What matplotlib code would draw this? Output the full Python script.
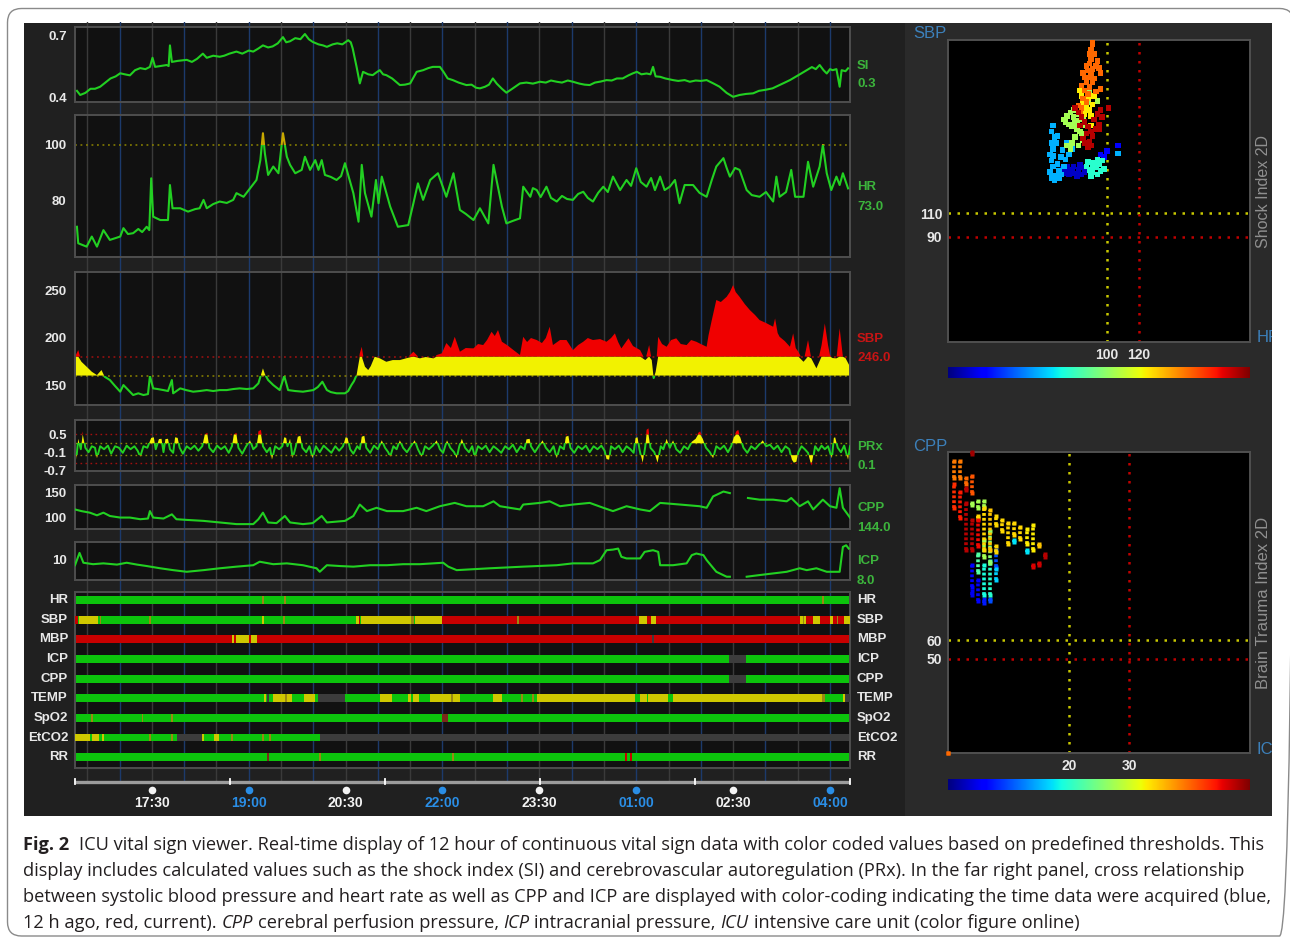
import numpy as np
import matplotlib
matplotlib.use("Agg")
import matplotlib.pyplot as plt
from matplotlib.patches import Rectangle, FancyBboxPatch
from matplotlib import font_manager

plt.rcParams['font.family'] = ['Liberation Sans', 'DejaVu Sans']

# ---------------------------------------------------------------- data
# time axis in clock hours (values past 24 are after midnight)
T0, T1 = 16.31, 28.31
time_ticks = [17.5, 19.0, 20.5, 22.0, 23.5, 25.0, 26.5, 28.0]
time_labels = ['17:30', '19:00', '20:30', '22:00', '23:30', '01:00', '02:30', '04:00']

si_points = [
    (16.34, 0.43), (16.39, 0.41), (16.47, 0.42), (16.55, 0.44), (16.62, 0.44), (16.70, 0.45),
    (16.78, 0.47), (16.86, 0.49), (16.94, 0.50), (17.01, 0.515), (17.08, 0.51), (17.16, 0.505),
    (17.24, 0.53), (17.32, 0.54), (17.40, 0.535), (17.47, 0.546), (17.51, 0.59), (17.55, 0.546),
    (17.63, 0.55), (17.73, 0.555), (17.76, 0.55), (17.78, 0.65), (17.81, 0.57), (17.90, 0.575),
    (18.04, 0.58), (18.12, 0.57), (18.20, 0.585), (18.29, 0.61), (18.35, 0.59), (18.45, 0.60),
    (18.55, 0.595), (18.62, 0.60), (18.70, 0.61), (18.81, 0.62), (18.90, 0.61), (19.00, 0.625),
    (19.07, 0.62), (19.15, 0.635), (19.22, 0.65), (19.30, 0.64), (19.37, 0.645), (19.45, 0.66),
    (19.53, 0.69), (19.58, 0.665), (19.64, 0.67), (19.72, 0.685), (19.80, 0.68), (19.87, 0.705),
    (19.93, 0.68), (19.99, 0.667), (20.08, 0.655), (20.15, 0.65), (20.21, 0.643), (20.30, 0.655),
    (20.37, 0.66), (20.45, 0.655), (20.54, 0.675), (20.58, 0.665), (20.61, 0.635), (20.67, 0.546),
    (20.72, 0.466), (20.77, 0.522), (20.85, 0.51), (20.92, 0.506), (20.98, 0.52), (21.03, 0.53),
    (21.08, 0.51), (21.13, 0.506), (21.22, 0.49), (21.34, 0.458), (21.42, 0.46), (21.50, 0.466),
    (21.60, 0.522), (21.70, 0.53), (21.78, 0.54), (21.85, 0.546), (21.96, 0.546), (22.02, 0.52),
    (22.08, 0.49), (22.16, 0.482), (22.25, 0.47), (22.37, 0.458), (22.45, 0.46), (22.52, 0.445),
    (22.58, 0.442), (22.66, 0.45), (22.72, 0.46), (22.78, 0.49), (22.84, 0.465), (22.92, 0.44),
    (22.99, 0.421), (23.08, 0.44), (23.20, 0.466), (23.30, 0.47), (23.40, 0.465), (23.51, 0.474),
    (23.60, 0.47), (23.68, 0.48), (23.77, 0.474), (23.85, 0.47), (23.94, 0.48), (24.02, 0.474),
    (24.12, 0.465), (24.20, 0.46), (24.28, 0.458), (24.36, 0.47), (24.45, 0.475), (24.54, 0.482),
    (24.62, 0.48), (24.70, 0.49), (24.79, 0.49), (24.88, 0.505), (24.95, 0.515), (25.01, 0.522),
    (25.08, 0.51), (25.16, 0.514), (25.22, 0.51), (25.26, 0.546), (25.30, 0.50), (25.37, 0.498),
    (25.45, 0.49), (25.57, 0.482), (25.65, 0.478), (25.75, 0.482), (25.83, 0.474), (25.92, 0.48),
    (26.00, 0.478), (26.09, 0.482), (26.20, 0.465), (26.29, 0.45), (26.40, 0.42), (26.50, 0.401),
    (26.60, 0.41), (26.70, 0.415), (26.81, 0.418), (26.90, 0.43), (27.00, 0.435), (27.11, 0.442),
    (27.20, 0.455), (27.30, 0.47), (27.38, 0.482), (27.48, 0.50), (27.56, 0.515), (27.64, 0.53),
    (27.72, 0.545), (27.78, 0.535), (27.84, 0.555), (27.90, 0.53), (27.95, 0.514), (28.00, 0.535),
    (28.04, 0.53), (28.10, 0.535), (28.15, 0.45), (28.18, 0.53), (28.24, 0.525), (28.28, 0.539),
]

hr_points = [
    (16.34, 70.8), (16.36, 64.9), (16.49, 63.7), (16.57, 67.3), (16.65, 63.7), (16.75, 69.6),
    (16.85, 66.1), (17.01, 67.3), (17.06, 70.3), (17.13, 68.2), (17.21, 68.5), (17.29, 70.0),
    (17.35, 68.9), (17.42, 70.8), (17.46, 69.6), (17.49, 88.1), (17.52, 74.4), (17.63, 73.2),
    (17.75, 73.2), (17.78, 85.7), (17.82, 77.4), (17.94, 77.4), (18.06, 76.2), (18.17, 77.1),
    (18.24, 77.4), (18.30, 80.4), (18.35, 77.4), (18.45, 78.9), (18.55, 79.8), (18.66, 79.3),
    (18.76, 80.4), (18.81, 82.8), (18.92, 81.5), (19.02, 84.5), (19.12, 87.5), (19.18, 94.6),
    (19.22, 104.2), (19.25, 97.0), (19.30, 89.3), (19.38, 92.3), (19.46, 89.9), (19.53, 104.2),
    (19.59, 95.8), (19.64, 92.9), (19.72, 89.9), (19.82, 91.1), (19.87, 95.8), (19.95, 91.1),
    (20.03, 94.6), (20.08, 91.1), (20.13, 94.6), (20.18, 89.3), (20.27, 88.6), (20.36, 87.5),
    (20.43, 88.9), (20.49, 93.5), (20.54, 89.3), (20.62, 82.8), (20.70, 72.6), (20.75, 92.9),
    (20.80, 82.8), (20.90, 74.4), (20.97, 87.5), (21.01, 79.2), (21.06, 88.7), (21.19, 78.0),
    (21.31, 70.8), (21.47, 71.4), (21.55, 79.2), (21.62, 86.3), (21.70, 80.4), (21.81, 87.5),
    (21.93, 89.9), (22.06, 81.5), (22.17, 89.9), (22.27, 76.8), (22.36, 75.4), (22.48, 73.2),
    (22.58, 77.4), (22.71, 72.0), (22.79, 92.9), (22.92, 78.0), (22.99, 72.0), (23.09, 72.9),
    (23.20, 73.8), (23.25, 85.1), (23.36, 81.5), (23.40, 84.6), (23.46, 83.9), (23.52, 81.4),
    (23.61, 85.1), (23.68, 81.1), (23.77, 79.8), (23.85, 81.8), (23.93, 80.7), (24.02, 80.4),
    (24.10, 82.5), (24.18, 83.3), (24.25, 81.1), (24.33, 79.8), (24.41, 82.9), (24.49, 85.1),
    (24.56, 83.2), (24.64, 88.7), (24.75, 83.9), (24.85, 87.5), (24.92, 85.4), (25.00, 91.7),
    (25.07, 86.8), (25.16, 85.1), (25.23, 88.2), (25.29, 83.9), (25.37, 88.7), (25.44, 83.9),
    (25.52, 85.1), (25.60, 87.5), (25.67, 79.2), (25.75, 85.7), (25.88, 85.7), (25.98, 82.9),
    (26.09, 81.5), (26.17, 87.5), (26.24, 92.3), (26.35, 95.3), (26.40, 91.8), (26.45, 88.7),
    (26.53, 91.8), (26.60, 91.1), (26.71, 83.9), (26.79, 82.1), (26.91, 81.5), (27.01, 83.2),
    (27.12, 79.8), (27.17, 88.7), (27.22, 81.5), (27.32, 83.2), (27.40, 91.1), (27.46, 81.5),
    (27.59, 81.5), (27.66, 94.0), (27.74, 85.1), (27.84, 92.3), (27.89, 100.0), (27.95, 89.9),
    (28.02, 83.9), (28.10, 88.7), (28.15, 85.7), (28.20, 89.9), (28.28, 84.5),
]

sbp_points = [
    (16.31, 179.8), (16.36, 186.8), (16.41, 174.5), (16.49, 169.3), (16.57, 164.0), (16.65, 160.5),
    (16.72, 165.8), (16.77, 158.7), (16.85, 155.3), (16.93, 149.0), (17.01, 143.0), (17.06, 150.0),
    (17.11, 146.5), (17.21, 139.5), (17.29, 141.3), (17.37, 139.5), (17.44, 140.5), (17.47, 159.5),
    (17.52, 146.5), (17.59, 145.8), (17.68, 144.7), (17.75, 143.7), (17.81, 155.3), (17.83, 141.3),
    (17.94, 146.5), (18.03, 144.7), (18.14, 143.0), (18.24, 143.7), (18.35, 144.7), (18.45, 143.7),
    (18.55, 144.7), (18.66, 144.7), (18.76, 145.8), (18.86, 146.5), (18.97, 145.8), (19.07, 146.5),
    (19.15, 151.8), (19.22, 167.6), (19.25, 161.6), (19.30, 155.3), (19.38, 150.0), (19.48, 144.7),
    (19.55, 159.5), (19.61, 144.7), (19.72, 143.7), (19.84, 143.0), (20.00, 144.7), (20.07, 147.9),
    (20.14, 153.5), (20.21, 144.7), (20.27, 142.6), (20.36, 141.3), (20.49, 141.3), (20.54, 143.7),
    (20.59, 150.0), (20.63, 154.2), (20.67, 160.5), (20.72, 183.4), (20.75, 190.3), (20.80, 169.3),
    (20.85, 165.8), (20.89, 170.0), (20.95, 179.8), (21.03, 178.1), (21.13, 174.5), (21.23, 176.3),
    (21.34, 176.3), (21.45, 178.4), (21.55, 185.1), (21.65, 178.1), (21.74, 179.5), (21.86, 178.1),
    (21.91, 181.6), (21.99, 183.4), (22.06, 194.2), (22.13, 189.0), (22.19, 200.8), (22.27, 185.1),
    (22.36, 189.0), (22.48, 188.6), (22.55, 193.2), (22.63, 192.1), (22.69, 197.4), (22.76, 206.1),
    (22.81, 201.6), (22.86, 207.9), (22.92, 195.6), (23.00, 192.1), (23.10, 186.8), (23.20, 181.6),
    (23.25, 200.8), (23.31, 195.3), (23.37, 199.5), (23.46, 197.4), (23.54, 194.2), (23.60, 199.5),
    (23.66, 211.4), (23.71, 192.1), (23.82, 197.4), (23.92, 197.4), (24.02, 186.8), (24.10, 192.1),
    (24.18, 195.6), (24.25, 199.5), (24.33, 197.4), (24.44, 198.4), (24.54, 195.6), (24.61, 199.5),
    (24.67, 204.4), (24.72, 195.3), (24.77, 188.6), (24.88, 199.2), (24.95, 191.1), (25.06, 186.8),
    (25.14, 176.3), (25.20, 192.1), (25.24, 176.3), (25.27, 157.4), (25.30, 163.7), (25.34, 200.8),
    (25.40, 193.2), (25.47, 190.3), (25.54, 197.4), (25.62, 199.2), (25.69, 193.2), (25.78, 192.1),
    (25.85, 197.4), (25.93, 195.6), (26.00, 193.2), (26.09, 190.3), (26.12, 202.6), (26.17, 218.4),
    (26.24, 239.5), (26.31, 237.4), (26.40, 242.9), (26.45, 247.9), (26.50, 255.3), (26.54, 247.9),
    (26.60, 242.9), (26.68, 235.3), (26.76, 228.9), (26.84, 223.7), (26.91, 218.4), (27.01, 215.3),
    (27.12, 211.4), (27.15, 220.2), (27.19, 204.7), (27.22, 200.8), (27.30, 196.3), (27.38, 190.3),
    (27.43, 204.4), (27.47, 188.9), (27.51, 185.1), (27.59, 174.5), (27.66, 197.4), (27.71, 178.1),
    (27.79, 167.6), (27.87, 192.1), (27.92, 214.9), (27.97, 192.1), (28.00, 181.6), (28.04, 178.4),
    (28.10, 178.1), (28.15, 209.7), (28.20, 179.8), (28.24, 178.4), (28.31, 169.3),
]

prx_points = [
    (16.33, -0.35), (16.36, 0.35), (16.40, 0.0), (16.43, 0.6), (16.47, 0.05), (16.52, -0.1),
    (16.57, 0.1), (16.62, 0.05), (16.65, -0.3), (16.70, 0.1), (16.76, 0.0), (16.82, 0.12),
    (16.87, -0.15), (16.93, 0.1), (16.99, 0.05), (17.05, -0.12), (17.11, 0.12), (17.17, 0.0),
    (17.23, 0.1), (17.28, -0.05), (17.32, -0.25), (17.37, 0.1), (17.43, 0.05), (17.49, 0.38),
    (17.53, 0.4), (17.56, 0.0), (17.61, 0.34), (17.65, 0.35), (17.68, -0.1), (17.71, 0.34),
    (17.75, 0.35), (17.78, 0.0), (17.83, -0.12), (17.86, 0.4), (17.90, 0.38), (17.93, 0.05),
    (17.98, -0.15), (18.04, 0.1), (18.10, 0.0), (18.16, 0.12), (18.22, -0.05), (18.28, 0.1),
    (18.32, 0.5), (18.36, 0.55), (18.39, 0.05), (18.45, -0.1), (18.51, 0.12), (18.57, 0.0),
    (18.63, 0.1), (18.69, -0.12), (18.74, 0.1), (18.77, 0.5), (18.81, 0.55), (18.84, 0.05),
    (18.90, -0.15), (18.96, 0.1), (19.02, 0.3), (19.07, 0.0), (19.12, 0.1), (19.15, 0.6),
    (19.19, 0.65), (19.22, 0.1), (19.28, -0.1), (19.33, 0.05), (19.36, -0.35), (19.41, 0.1),
    (19.47, 0.0), (19.52, 0.1), (19.55, 0.4), (19.58, 0.38), (19.60, 0.1), (19.64, 0.35),
    (19.68, -0.3), (19.73, 0.1), (19.76, 0.42), (19.80, 0.45), (19.83, 0.05), (19.89, -0.1),
    (19.94, 0.1), (19.99, -0.3), (20.04, 0.1), (20.10, -0.1), (20.16, 0.12), (20.22, 0.0),
    (20.28, -0.12), (20.34, 0.1), (20.40, -0.05), (20.46, 0.1), (20.50, 0.4), (20.53, 0.38),
    (20.57, 0.0), (20.62, -0.15), (20.68, 0.1), (20.72, 0.0), (20.75, 0.42), (20.79, 0.45),
    (20.82, 0.05), (20.88, -0.12), (20.94, 0.12), (21.00, 0.0), (21.06, 0.3), (21.11, 0.05),
    (21.16, -0.1), (21.19, -0.25), (21.24, 0.1), (21.29, 0.0), (21.34, 0.3), (21.39, 0.05),
    (21.45, -0.1), (21.51, 0.1), (21.57, 0.3), (21.62, 0.0), (21.68, -0.25), (21.73, 0.1),
    (21.79, 0.0), (21.85, 0.12), (21.91, 0.3), (21.96, 0.0), (22.01, -0.12), (22.07, 0.3),
    (22.12, 0.05), (22.18, -0.1), (22.22, -0.3), (22.26, 0.1), (22.30, 0.35), (22.35, 0.05),
    (22.41, -0.1), (22.46, 0.1), (22.50, -0.25), (22.55, 0.1), (22.61, 0.0), (22.67, 0.12),
    (22.73, -0.1), (22.79, 0.1), (22.85, 0.0), (22.91, -0.12), (22.97, 0.1), (23.03, 0.0),
    (23.09, 0.15), (23.15, -0.1), (23.21, 0.1), (23.27, 0.0), (23.30, 0.33), (23.35, 0.35),
    (23.37, 0.1), (23.43, -0.1), (23.49, 0.1), (23.55, 0.3), (23.60, 0.05), (23.66, -0.1),
    (23.72, 0.1), (23.77, -0.3), (23.82, 0.1), (23.88, 0.0), (23.91, 0.42), (23.95, 0.45),
    (23.98, 0.05), (24.04, -0.12), (24.10, 0.1), (24.16, 0.0), (24.22, 0.12), (24.28, -0.1),
    (24.34, 0.1), (24.40, 0.0), (24.46, 0.12), (24.51, -0.05), (24.54, -0.33), (24.58, -0.35),
    (24.61, 0.1), (24.67, 0.0), (24.73, 0.12), (24.79, -0.1), (24.85, 0.1), (24.91, 0.0),
    (24.96, -0.12), (24.99, 0.38), (25.02, 0.4), (25.05, 0.0), (25.10, -0.5), (25.14, 0.1),
    (25.16, 0.65), (25.19, 0.7), (25.22, 0.05), (25.28, -0.1), (25.33, -0.45), (25.38, 0.1),
    (25.42, 0.0), (25.47, 0.35), (25.52, 0.05), (25.57, 0.3), (25.62, 0.0), (25.68, -0.12),
    (25.74, 0.1), (25.80, 0.0), (25.86, 0.25), (25.92, 0.35), (25.96, 0.55), (25.99, 0.6),
    (26.03, 0.35), (26.08, 0.05), (26.14, -0.1), (26.19, -0.3), (26.24, 0.1), (26.30, 0.0),
    (26.36, 0.12), (26.42, -0.1), (26.47, 0.1), (26.51, 0.4), (26.55, 0.6), (26.58, 0.65),
    (26.61, 0.4), (26.66, 0.05), (26.72, -0.12), (26.78, 0.1), (26.84, 0.0), (26.90, 0.15),
    (26.96, 0.3), (27.01, 0.1), (27.07, 0.15), (27.13, 0.0), (27.19, 0.12), (27.25, -0.1),
    (27.31, 0.1), (27.37, 0.0), (27.41, -0.35), (27.44, -0.45), (27.48, -0.42), (27.51, -0.1),
    (27.56, 0.1), (27.61, 0.0), (27.66, -0.12), (27.70, -0.45), (27.72, -0.55), (27.77, 0.1),
    (27.82, -0.05), (27.87, 0.12), (27.92, 0.0), (27.97, 0.1), (28.03, -0.3), (28.06, 0.38),
    (28.08, 0.4), (28.12, 0.05), (28.17, -0.1), (28.22, 0.12), (28.28, -0.35), (28.31, 0.1),
]

cpp_points = [
    (16.31, 116.0), (16.41, 112.6), (16.54, 109.4), (16.65, 104.0), (16.75, 109.4), (16.85, 102.6),
    (17.01, 99.4), (17.16, 99.4), (17.32, 96.0), (17.44, 97.4), (17.47, 112.6), (17.52, 99.4),
    (17.68, 97.4), (17.78, 104.0), (17.81, 106.0), (17.88, 96.0), (18.04, 94.6), (18.30, 92.6),
    (18.55, 89.4), (18.81, 86.0), (19.07, 86.0), (19.15, 96.0), (19.22, 109.4), (19.30, 89.4),
    (19.43, 88.0), (19.56, 102.6), (19.64, 89.4), (19.84, 86.0), (19.99, 88.0), (20.13, 102.6),
    (20.21, 89.4), (20.49, 92.6), (20.62, 102.6), (20.72, 126.0), (20.83, 112.6), (20.98, 119.4),
    (21.14, 112.6), (21.39, 112.6), (21.60, 119.4), (21.75, 112.6), (21.96, 122.6), (22.19, 129.4),
    (22.37, 122.6), (22.63, 122.6), (22.79, 132.6), (22.89, 122.6), (23.20, 116.0), (23.25, 126.0),
    (23.51, 129.4), (23.66, 132.6), (23.82, 122.6), (24.02, 126.0), (24.28, 129.4), (24.49, 119.4),
    (24.64, 112.6), (24.85, 122.6), (25.06, 116.0), (25.21, 112.6), (25.37, 129.4), (25.68, 126.0),
    (25.98, 122.6), (26.09, 119.4), (26.19, 142.6), (26.35, 152.6), (26.45, 149.4), (26.60, np.nan),
    (26.73, 139.4), (26.91, 136.0), (27.12, 136.0), (27.33, 132.6), (27.40, 139.4), (27.53, 122.6),
    (27.66, 132.6), (27.74, 116.0), (27.89, 136.0), (28.00, 122.6), (28.10, 119.4), (28.15, 159.4),
    (28.20, 119.4), (28.31, 99.4),
]

icp_points = [
    (16.31, 7.2), (16.38, 13.2), (16.44, 8.4), (16.59, 7.7), (16.75, 8.1), (16.96, 7.5),
    (17.11, 8.4), (17.27, 7.5), (17.42, 6.8), (17.63, 5.7), (17.83, 4.8), (18.04, 4.0),
    (18.30, 4.8), (18.55, 5.7), (18.81, 6.5), (19.07, 7.2), (19.17, 8.9), (19.38, 7.7),
    (19.59, 8.1), (19.84, 7.2), (20.05, 5.7), (20.10, 4.0), (20.21, 7.2), (20.41, 6.8),
    (20.62, 6.5), (20.88, 7.2), (21.14, 7.2), (21.39, 7.7), (21.65, 7.7), (22.01, 8.4),
    (22.09, 6.5), (22.22, 4.8), (22.73, 5.7), (23.25, 6.5), (23.77, 7.2), (24.02, 8.1),
    (24.33, 8.1), (24.44, 9.7), (24.54, 14.5), (24.64, 14.8), (24.72, 15.3), (24.77, 11.3),
    (24.85, 10.5), (25.06, 10.5), (25.13, 13.7), (25.26, 14.5), (25.34, 13.7), (25.37, 7.2),
    (25.57, 7.2), (25.78, 8.1), (25.86, 12.1), (25.93, 12.9), (26.04, 12.1), (26.09, 9.7),
    (26.24, 4.0), (26.40, 1.6), (26.45, 1.6), (26.60, np.nan), (26.71, 1.6), (26.91, 2.4),
    (27.12, 3.2), (27.33, 4.0), (27.53, 5.7), (27.64, 4.8), (27.79, 5.7), (27.95, 4.0),
    (28.15, 4.0), (28.20, 16.1), (28.25, 16.9), (28.29, 15.3),
]

# current values shown beside each trend
current_values = {'SI': '0.3', 'HR': '73.0', 'SBP': '246.0', 'PRx': '0.1', 'CPP': '144.0', 'ICP': '8.0'}

# alarm-state bars: base state, then (start, end, state) overrides
status_names = ['HR', 'SBP', 'MBP', 'ICP', 'CPP', 'TEMP', 'SpO2', 'EtCO2', 'RR']
status_base = ['g', 'g', 'r', 'g', 'g', 'g', 'g', 'n', 'g']
status_segments = {
    'HR': [(19.21, 19.24, 'o'), (19.54, 19.57, 'o'), (27.88, 27.91, 'o')],
    'SBP': [(16.31, 16.36, 'r'), (16.37, 16.66, 'y'), (16.69, 16.72, 'o'), (17.46, 17.49, 'o'),
            (19.20, 19.24, 'y'), (19.53, 19.56, 'o'), (20.66, 20.70, 'y'), (20.70, 20.73, 'r'),
            (20.74, 21.52, 'y'), (21.52, 21.56, 'o'), (21.57, 22.00, 'y'), (22.00, 28.31, 'r'),
            (23.15, 23.18, 'o'), (25.05, 25.16, 'y'), (25.23, 25.31, 'y'), (27.53, 27.63, 'y'),
            (27.58, 27.60, 'o'), (27.73, 27.84, 'y'), (28.00, 28.04, 'y'), (28.11, 28.13, 'o'),
            (28.22, 28.31, 'y')],
    'MBP': [(18.74, 19.13, 'y'), (18.77, 18.80, 'r'), (19.00, 19.03, 'r'), (25.25, 25.28, 'n')],
    'ICP': [(26.43, 26.70, 'n')],
    'CPP': [(26.43, 26.70, 'n')],
    'TEMP': [(19.23, 19.27, 'y'), (19.28, 19.32, 'n'), (19.37, 19.67, 'y'), (19.56, 19.59, 'o'),
             (19.86, 20.03, 'y'), (20.07, 20.49, 'n'), (21.03, 21.22, 'y'), (21.46, 21.52, 'y'),
             (21.55, 21.64, 'y'), (21.81, 22.27, 'y'), (22.13, 22.16, 'o'), (22.78, 22.92, 'y'),
             (23.22, 23.25, 'o'), (23.39, 23.42, 'o'), (23.46, 24.98, 'y'), (25.06, 25.16, 'y'),
             (25.18, 25.49, 'y'), (25.57, 27.87, 'y'), (27.87, 27.93, 'o'), (28.20, 28.23, 'y'),
             (28.24, 28.31, 'n')],
    'SpO2': [(16.56, 16.59, 'o'), (17.34, 17.37, 'o'), (17.79, 17.82, 'o'), (22.00, 22.08, 'd')],
    'EtCO2': [(16.31, 16.54, 'y'), (16.54, 16.57, 'g'), (16.57, 16.68, 'y'), (16.68, 16.73, 'g'),
              (16.73, 16.76, 'y'), (16.76, 17.89, 'g'), (17.46, 17.49, 'o'), (17.79, 17.82, 'o'),
              (18.28, 18.31, 'y'), (18.31, 18.46, 'g'), (18.46, 18.54, 'y'), (18.54, 20.10, 'g'),
              (18.73, 18.76, 'o'), (19.21, 19.24, 'o'), (19.32, 19.35, 'o')],
    'RR': [(19.28, 19.31, 'd'), (20.09, 20.12, 'o'), (22.15, 22.18, 'o'), (24.82, 24.86, 'r'),
           (24.90, 24.94, 'r')],
}

# SBP vs HR cloud, keyed by age (0 = 12 h ago, 1 = now)
shock_groups = {
    0.06: [(72, 148), (74, 145), (76, 143), (78, 146), (80, 144), (82, 147), (84, 143), (86, 145),
           (75, 150), (79, 150), (83, 151), (87, 148), (73, 144), (81, 142), (85, 149), (77, 147)],
    0.12: [(96, 160), (98, 158), (100, 163), (107, 168)],
    0.30: [(65, 140), (64, 145), (66, 150), (65, 155), (64, 160), (66, 165), (65, 170), (67, 175),
           (65, 180), (66, 185), (68, 142), (70, 146), (69, 152), (71, 158), (72, 164), (68, 170),
           (73, 150), (74, 156), (76, 160), (78, 165), (75, 170), (70, 140), (67, 138), (69, 176),
           (66, 159), (71, 143), (107, 161)],
    0.40: [(87, 150), (89, 147), (91, 145), (93, 149), (95, 152), (92, 153), (96, 146), (90, 142),
           (94, 143), (98, 148), (88, 154), (97, 155), (91, 150), (94, 156)],
    0.55: [(73, 190), (75, 193), (77, 196), (79, 192), (81, 189), (76, 186), (78, 184), (80, 187),
           (82, 195), (84, 199), (86, 203), (88, 205), (85, 190), (83, 180), (80, 175), (78, 170),
           (82, 168), (85, 172), (84, 178), (86, 185), (77, 165), (75, 168), (89, 213), (94, 206),
           (74, 188), (79, 198), (81, 182)],
    0.66: [(85, 205), (87, 200), (89, 198), (91, 203), (88, 208), (86, 195), (90, 193), (84, 210),
           (92, 210), (83, 215), (90, 185)],
    0.80: [(91, 258), (91, 254), (90, 250), (92, 246), (90, 242), (89, 238), (93, 236), (95, 234),
           (88, 232), (90, 228), (92, 225), (87, 222), (89, 218), (86, 215), (88, 212), (85, 208),
           (87, 205), (84, 200), (86, 226), (85, 230), (83, 196), (82, 202), (84, 219), (89, 246),
           (94, 240), (96, 230), (91, 233), (96, 216), (93, 214), (91, 222), (88, 226), (87, 236)],
    0.95: [(80, 200), (82, 196), (84, 192), (86, 188), (88, 184), (90, 180), (87, 178), (85, 174),
           (89, 171), (91, 176), (93, 182), (95, 186), (92, 190), (94, 195), (96, 198), (88, 166),
           (86, 170), (101, 200), (97, 192), (83, 185), (90, 168), (95, 182)],
}

# CPP vs ICP: runs of readings at one ICP value (icp, cpp_low, cpp_high, age)
brain_runs = [
    (1, 146, 155, 0.78), (1, 130, 143, 0.86),
    (2, 146, 155, 0.78), (2, 125, 139, 0.88),
    (3, 143, 146, 0.80), (3, 140, 141, 0.95), (3, 108, 133, 0.95),
    (4, 138, 147, 0.82), (4, 132, 133, 0.55), (4, 108, 124, 0.95), (4, 88, 100, 0.12),
    (4, 84, 86, 0.10), (4, 159, 160, 0.97),
    (5, 130, 134, 0.55), (5, 125, 126, 0.68), (5, 110, 124, 0.90), (5, 96, 106, 0.45),
    (5, 81, 92, 0.12),
    (6, 131, 134, 0.55), (6, 108, 130, 0.68), (6, 104, 113, 0.55), (6, 84, 100, 0.38),
    (6, 80, 82, 0.15),
    (7, 108, 129, 0.70), (7, 101, 118, 0.52), (7, 84, 102, 0.40), (7, 81, 82, 0.20),
    (8, 121, 126, 0.68), (8, 107, 110, 0.68), (8, 99, 108, 0.20), (8, 92, 98, 0.33),
    (9, 118, 124, 0.68), (10, 111, 122, 0.68), (11, 116, 122, 0.68), (11, 112, 113, 0.35),
    (12, 114, 120, 0.68), (13, 111, 119, 0.66), (13, 107, 108, 0.35),
    (14, 108, 121, 0.66), (14, 99, 100, 0.92), (15, 110, 111, 0.70), (15, 100, 101, 0.93),
    (16, 104, 106, 0.95), (0, 0, 0, 0.80),
]

# ---------------------------------------------------------------- styling
W, H = 1290, 938
BG_LEFT, BG_RIGHT = '#202020', '#2a2a2a'
PANEL, EDGE = '#111111', '#4e4e4e'
GREEN = '#22d022'
LABEL_GREEN, LABEL_RED = '#3cb43c', '#c81414'
FILL_Y, FILL_R = '#f2f200', '#f00000'
DOT_Y, DOT_R = '#8c8400', '#a01010'
TICK = '#e8e8e8'
STATE = {'g': '#0cc40c', 'y': '#cfc800', 'r': '#c80000', 'n': '#3c3c3c',
         'o': '#9a8a12', 'd': '#7a2a1a'}
GRID_HALF, GRID_HOUR = '#3a3a3a', '#1c3a6c'
DOTTED = (0, (1.2, 2.4))
LW = 1.5

fig = plt.figure(figsize=(W / 100, H / 100), dpi=100)
fig.patch.set_facecolor('white')


def box(x0, y0, x1, y1):
    return [x0 / W, 1 - y1 / H, (x1 - x0) / W, (y1 - y0) / H]


def ftext(x, y, s, **kw):
    return fig.text(x / W, 1 - y / H, s, **kw)


def split(points):
    arr = np.array(points, dtype=float)
    return arr[:, 0], arr[:, 1]


def clip_band(artist, ax, lo, hi):
    artist.set_clip_path(Rectangle((T0, lo), T1 - T0, hi - lo, transform=ax.transData))


grid_times = np.arange(16.5, 28.01, 0.5)


def draw_grid(ax):
    for g in grid_times:
        ax.axvline(g, color=GRID_HOUR if g % 1 == 0 else GRID_HALF, lw=1.0, zorder=0.5)


# canvas: dark screen area
canvas = fig.add_axes([0, 0, 1, 1], zorder=-10)
canvas.set_xlim(0, W); canvas.set_ylim(H, 0); canvas.axis('off')
canvas.add_patch(Rectangle((24, 23), 881, 793, color=BG_LEFT, lw=0))
canvas.add_patch(Rectangle((905, 23), 367, 793, color=BG_RIGHT, lw=0))

# grid lines running through the gaps between trend panels
gax = fig.add_axes(box(75, 22, 850, 783), zorder=-5)
gax.set_xlim(T0, T1); gax.axis('off')
draw_grid(gax)

LABEL_FONT = dict(fontsize=9.5, fontweight='bold')


def panel(px, ylim, ticks, labels):
    ax = fig.add_axes(box(*px))
    ax.set_facecolor(PANEL)
    ax.set_xlim(T0, T1)
    ax.set_ylim(*ylim)
    for s in ax.spines.values():
        s.set_color(EDGE)
        s.set_linewidth(1.4)
    ax.set_xticks([])
    ax.set_yticks(ticks, labels, color=TICK, **LABEL_FONT)
    ax.tick_params(axis='y', length=0, pad=6)
    draw_grid(ax)
    return ax


def side_label(y_name, y_value, name, color):
    ftext(857, y_name, name, color=color, va='center', **LABEL_FONT)
    ftext(857, y_value, current_values[name], color=color, va='center', **LABEL_FONT)


# SI
ax = panel((75, 27, 850, 102), (0.376, 0.739), [0.4, 0.7], ['0.4', '0.7'])
t, v = split(si_points)
ax.plot(t, v, color=GREEN, lw=LW, zorder=3)
side_label(66, 84, 'SI', LABEL_GREEN)

# HR
ax = panel((75, 115, 850, 257), (60, 110.7), [80, 100], ['80', '100'])
t, v = split(hr_points)
ax.axhline(100, color=DOT_Y, ls=DOTTED, lw=1.1, zorder=1)
ln, = ax.plot(t, v, color=GREEN, lw=LW, zorder=3)
clip_band(ln, ax, 60, 100)
ln, = ax.plot(t, v, color='#c8a800', lw=LW, zorder=3)
clip_band(ln, ax, 100, 110.7)
side_label(187, 207, 'HR', LABEL_GREEN)

# SBP
ax = panel((75, 272, 850, 405), (129, 269), [150, 200, 250], ['150', '200', '250'])
t, v = split(sbp_points)
ax.axhline(180, color=DOT_R, ls=DOTTED, lw=1.1, zorder=1)
ax.axhline(160, color=DOT_Y, ls=DOTTED, lw=1.1, zorder=1)
ax.fill_between(t, 160, np.minimum(v, 180), where=v > 160, interpolate=True, color=FILL_Y, lw=0, zorder=2)
ax.fill_between(t, 180, v, where=v > 180, interpolate=True, color=FILL_R, lw=0, zorder=2)
ln, = ax.plot(t, v, color=GREEN, lw=LW, zorder=3)
clip_band(ln, ax, 129, 160)
side_label(339, 358, 'SBP', LABEL_RED)

# PRx
ax = panel((75, 420, 850, 471), (-0.73, 0.98), [-0.7, -0.1, 0.5], ['-0.7', '-0.1', '0.5'])
t, v = split(prx_points)
for lvl, col in [(0.5, DOT_R), (-0.45, DOT_R), (0.2, DOT_Y), (-0.2, DOT_Y)]:
    ax.axhline(lvl, color=col, ls=DOTTED, lw=1.0, zorder=1)
ax.fill_between(t, 0.2, np.minimum(v, 0.5), where=v > 0.2, interpolate=True, color=FILL_Y, lw=0, zorder=2)
ax.fill_between(t, 0.5, v, where=v > 0.5, interpolate=True, color=FILL_R, lw=0, zorder=2)
ax.fill_between(t, np.maximum(v, -0.45), -0.2, where=v < -0.2, interpolate=True, color=FILL_Y, lw=0, zorder=2)
ax.fill_between(t, v, -0.45, where=v < -0.45, interpolate=True, color=FILL_R, lw=0, zorder=2)
ln, = ax.plot(t, v, color=GREEN, lw=1.4, zorder=3)
clip_band(ln, ax, -0.2, 0.2)
side_label(447, 466, 'PRx', LABEL_GREEN)

# CPP
ax = panel((75, 485, 850, 529), (76, 166), [100, 150], ['100', '150'])
t, v = split(cpp_points)
ax.plot(t, v, color=GREEN, lw=LW, zorder=3)
side_label(508, 528, 'CPP', LABEL_GREEN)

# ICP
ax = panel((75, 542, 850, 580), (0, 18.5), [10], ['10'])
t, v = split(icp_points)
ax.plot(t, v, color=GREEN, lw=LW, zorder=3)
side_label(561, 581, 'ICP', LABEL_GREEN)

# alarm-state bars
sax = panel((75, 592, 850, 768), (8.55, -0.41), [], [])
bar_h = 0.40
for i, name in enumerate(status_names):
    sax.broken_barh([(T0, T1 - T0)], (i - bar_h / 2, bar_h), facecolors=STATE[status_base[i]], zorder=2)
    for a, b, c in status_segments[name]:
        sax.broken_barh([(a, b - a)], (i - bar_h / 2, bar_h), facecolors=STATE[c], zorder=3)
    sax.text(-0.009, i, name, transform=sax.get_yaxis_transform(), ha='right', va='center',
             color=TICK, **LABEL_FONT)
    sax.text(1.009, i, name, transform=sax.get_yaxis_transform(), ha='left', va='center',
             color=TICK, **LABEL_FONT)

# time axis
tax = fig.add_axes(box(75, 774, 850, 814))
tax.set_xlim(T0, T1); tax.set_ylim(814, 774); tax.axis('off')
tax.plot([T0, T1], [781.5, 781.5], color='#9c9c9c', lw=2.4, solid_capstyle='butt')
for tk in np.linspace(T0, T1, 6):
    tax.plot([tk, tk], [778.5, 784], color='white', lw=1.3, clip_on=False)
for tt, lab in zip(time_ticks, time_labels):
    col = '#2a8ee6' if tt % 1 == 0 else '#f2f2f2'
    tax.plot([tt], [790], 'o', ms=5.5, color=col, mec='none')
    tax.text(tt, 802.5, lab, ha='center', va='center', color=col, fontsize=10, fontweight='bold')

# ---------------------------------------------------------------- 2D indices
AXIS_NAME = '#3c80ba'
ROT_NAME = '#909090'


def index_axes(px, xlim, ylim, xt, yt, xlines, ylines):
    a = fig.add_axes(box(*px))
    a.set_facecolor('black')
    a.set_xlim(*xlim); a.set_ylim(*ylim)
    for s in a.spines.values():
        s.set_color('#505050'); s.set_linewidth(1.4)
    for val, col in ylines:
        a.axhline(val, color=col, ls=(0, (1.0, 2.6)), lw=1.8, zorder=1)
    for val, col in xlines:
        a.axvline(val, color=col, ls=(0, (1.0, 2.6)), lw=1.8, zorder=1)
    a.set_xticks(xt, [str(x) for x in xt], color=TICK, fontsize=10, fontweight='bold')
    a.set_yticks(yt, [str(y) for y in yt], color=TICK, fontsize=10, fontweight='bold')
    a.tick_params(length=0, pad=4)
    return a


def colorbar_strip(px):
    c = fig.add_axes(box(*px))
    c.imshow(np.linspace(0, 1, 256)[None, :], aspect='auto', cmap='jet')
    c.axis('off')


a1 = index_axes((948, 40, 1250, 342), (0, 190), (0, 258), [100, 120], [90, 110],
                [(100, '#c8c800'), (120, '#c00000')], [(110, '#c8c800'), (90, '#c00000')])
for age in sorted(shock_groups):
    hr_v, sbp_v = split(shock_groups[age])
    a1.scatter(hr_v, sbp_v, c=[age] * len(hr_v), cmap='jet', vmin=0, vmax=1,
               marker='s', s=16, linewidths=0, zorder=3)
colorbar_strip((948, 367, 1250, 378))
ftext(930, 33, 'SBP', color=AXIS_NAME, fontsize=12, ha='center', va='center')
ftext(1257, 337, 'HR', color=AXIS_NAME, fontsize=12, ha='left', va='center')
ftext(1264, 191, 'Shock Index 2D', color=ROT_NAME, fontsize=11.5, rotation=90, ha='center', va='center')

a2 = index_axes((948, 452, 1250, 753), (0, 50), (0, 160), [20, 30], [50, 60],
                [(20, '#c8c800'), (30, '#c00000')], [(60, '#c8c800'), (50, '#c00000')])
jet = plt.get_cmap('jet')
for icp_v, lo, hi, age in sorted(brain_runs, key=lambda r: r[3]):
    col = jet(age)
    if hi > lo:
        a2.plot([icp_v, icp_v], [lo, hi], color=col, lw=2.6, ls=(0, (0.8, 0.55)),
                solid_capstyle='butt', zorder=3)
    a2.plot([icp_v, icp_v], [lo, hi], ls='none', marker='s', ms=2.8, mec='none', color=col,
            zorder=3, clip_on=False)
colorbar_strip((948, 779, 1250, 790))
ftext(930, 446, 'CPP', color=AXIS_NAME, fontsize=12, ha='center', va='center')
ftext(1257, 750, 'ICP', color=AXIS_NAME, fontsize=12, ha='left', va='center')
ftext(1264, 603, 'Brain Trauma Index 2D', color=ROT_NAME, fontsize=12, rotation=90,
      ha='center', va='center')

# ---------------------------------------------------------------- frame + caption
top = fig.add_axes([0, 0, 1, 1], zorder=10)
top.set_xlim(0, W); top.set_ylim(H, 0); top.axis('off')
top.add_patch(Rectangle((1272, 15), 18, 810, color='white', lw=0))
top.add_patch(FancyBboxPatch((7.5, 8.5), 1286, 927.5, boxstyle='round,pad=0,rounding_size=14',
                             fc='none', ec='#8a8a8a', lw=1.0))

_available = {f.name for f in font_manager.fontManager.ttflist}
CAPTION_FONT = next(f for f in ['Liberation Sans Narrow', 'Open Sans', 'Noto Sans', 'DejaVu Sans']
                    if f in _available)
STYLE = {'bold': dict(fontweight='bold'), 'italic': dict(fontstyle='italic'), 'normal': {}}

caption_lines = [
    [("Fig. 2", 'bold', 2),
     ("ICU vital sign viewer. Real-time display of 12 hour of continuous vital sign data with color "
      "coded values based on predefined thresholds. This", 'normal', 0)],
    [("display includes calculated values such as the shock index (SI) and cerebrovascular "
      "autoregulation (PRx). In the far right panel, cross relationship", 'normal', 0)],
    [("between systolic blood pressure and heart rate as well as CPP and ICP are displayed with "
      "color-coding indicating the time data were acquired (blue,", 'normal', 0)],
    [("12 h ago, red, current).", 'normal', 1), ("CPP", 'italic', 1),
     ("cerebral perfusion pressure,", 'normal', 1), ("ICP", 'italic', 1),
     ("intracranial pressure,", 'normal', 1), ("ICU", 'italic', 1),
     ("intensive care unit (color figure online)", 'normal', 0)],
]
caption_baselines = [850, 876, 902, 928]
caption_targets = [1245, 1212, 1252]

renderer = fig.canvas.get_renderer()


def text_width(s, size, style='normal'):
    t = fig.text(0, 0, s, fontsize=size, family=CAPTION_FONT, **STYLE[style])
    w = t.get_window_extent(renderer).width
    t.remove()
    return w


def line_width(runs, size):
    sp = text_width('a a', size) - text_width('aa', size)
    return sum(text_width(s, size, st) + n * sp for s, st, n in runs)


ref = 10.0
natural = sum(line_width(caption_lines[i], ref) for i in range(3))
cap_size = ref * sum(caption_targets) / natural
space = text_width('a a', cap_size) - text_width('aa', cap_size)
for runs, yb in zip(caption_lines, caption_baselines):
    x = 23
    for s, st, n in runs:
        ftext(x, yb, s, fontsize=cap_size, family=CAPTION_FONT, color='#231f20',
              va='baseline', ha='left', **STYLE[st])
        x += text_width(s, cap_size, st) + n * space

fig.savefig('out.png', dpi=100, facecolor='white')
